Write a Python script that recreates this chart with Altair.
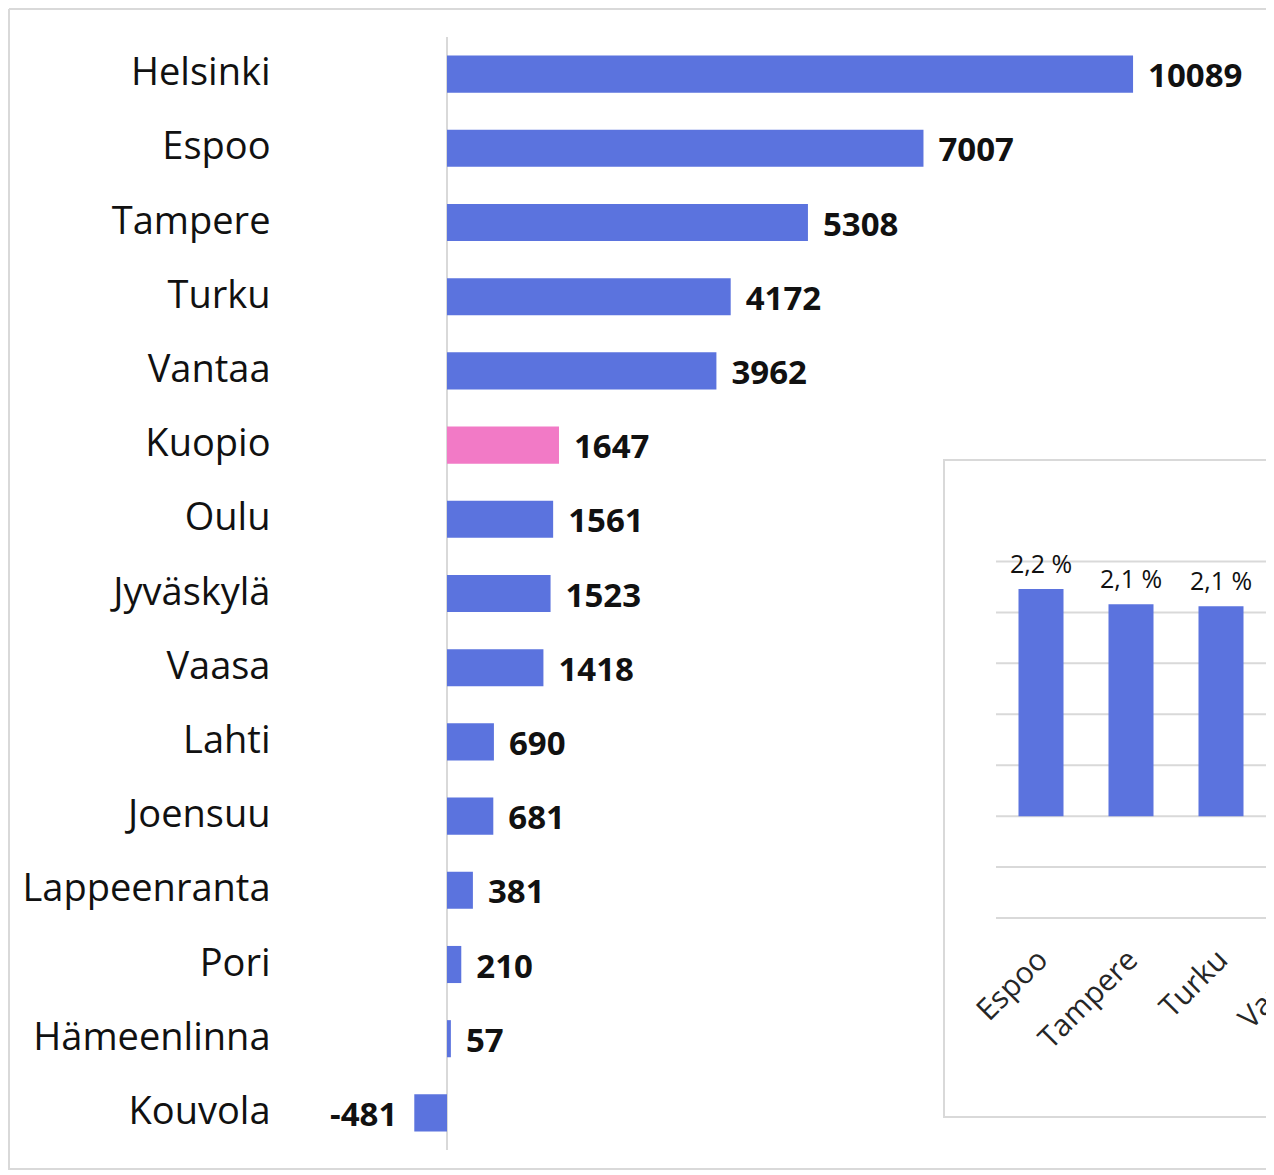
import altair as alt
import pandas as pd

# ---- data ----
cities = ["Helsinki", "Espoo", "Tampere", "Turku", "Vantaa", "Kuopio", "Oulu",
          "Jyväskylä", "Vaasa", "Lahti", "Joensuu", "Lappeenranta", "Pori",
          "Hämeenlinna", "Kouvola"]
values = [10089, 7007, 5308, 4172, 3962, 1647, 1561, 1523, 1418, 690, 681,
          381, 210, 57, -481]
highlight = "Kuopio"

inset_cities = ["Espoo", "Tampere", "Turku", "Vantaa"]
inset_bar_cities = ["Espoo", "Tampere", "Turku"]
inset_values = [2.23, 2.08, 2.06]
inset_ticks = [-1.0, -0.5, 0.0, 0.5, 1.0, 1.5, 2.0, 2.5]

BLUE = "#5b73de"
PINK = "#f27ac6"
GRID = "#d9d9d9"
TXT = "#111111"

main_df = pd.DataFrame({"city": cities, "value": values})
inset_df = pd.DataFrame({"city": inset_bar_cities, "v": inset_values})
inset_cat_df = pd.DataFrame({"city": inset_cities})
tick_df = pd.DataFrame({"tick": inset_ticks})
one = pd.DataFrame({"k": [0]})

W, H = 1256, 1160

# ---- main chart scales ----
xscale = alt.Scale(domain=[0, 10000], range=[437, 1117], zero=False, nice=False)
yscale = alt.Scale(domain=cities, range=[27, 1140], paddingInner=0.5, paddingOuter=0.25)

yaxis = alt.Axis(orient="left", offset=-265, labelPadding=5, ticks=False, domain=False,
                 labelFont="Open Sans", labelFontSize=38, labelColor=TXT,
                 labelLimit=500, title=None, grid=False)

f_left = alt.Chart(one).mark_rule(color=GRID, strokeWidth=2).encode(
    x=alt.value(-1), y=alt.value(-1), y2=alt.value(H + 2))
f_top = alt.Chart(one).mark_rule(color=GRID, strokeWidth=2).encode(
    y=alt.value(-1), x=alt.value(-1), x2=alt.value(W + 2))
f_bottom = alt.Chart(one).mark_rule(color=GRID, strokeWidth=2).encode(
    y=alt.value(H - 1), x=alt.value(-1), x2=alt.value(W + 2))

zero_rule = alt.Chart(main_df).transform_filter(alt.datum.city == cities[0]).transform_calculate(
    z="0").mark_rule(color=GRID, strokeWidth=2).encode(
    x=alt.X("z:Q", scale=xscale, axis=None),
    y=alt.value(27), y2=alt.value(1140))

bars = alt.Chart(main_df).mark_bar().encode(
    x=alt.X("value:Q", scale=xscale, axis=None),
    y=alt.Y("city:N", scale=yscale, axis=yaxis, sort=cities),
    color=alt.condition(alt.datum.city == highlight, alt.value(PINK), alt.value(BLUE)),
)

label_base = alt.Chart(main_df).transform_calculate(lbl="'' + datum.value")

pos_labels = label_base.transform_filter(alt.datum.value >= 0).mark_text(
    align="left", baseline="middle", dx=15, dy=3, font="Open Sans",
    fontSize=33, fontWeight="bold", color=TXT).encode(
    x=alt.X("value:Q", scale=xscale, axis=None),
    y=alt.Y("city:N", scale=yscale, axis=yaxis, sort=cities),
    text="lbl:N")

neg_labels = label_base.transform_filter(alt.datum.value < 0).mark_text(
    align="right", baseline="middle", dx=-17, dy=3, font="Open Sans",
    fontSize=33, fontWeight="bold", color=TXT).encode(
    x=alt.X("value:Q", scale=xscale, axis=None),
    y=alt.Y("city:N", scale=yscale, axis=yaxis, sort=cities),
    text="lbl:N")

main = alt.layer(f_left, f_top, f_bottom, zero_rule, bars, pos_labels, neg_labels)

# ---- inset chart ----
ix = alt.Scale(domain=inset_cities, range=[986, 1346], paddingInner=0.5, paddingOuter=0.25)
iy = alt.Scale(domain=[-1.0, 2.5], range=[908, 551.5], zero=False, nice=False)

inset_frame = alt.Chart(one).mark_rect(fill="white", stroke=GRID, strokeWidth=2).encode(
    x=alt.value(934), x2=alt.value(W + 20), y=alt.value(450), y2=alt.value(1107))

inset_grid = alt.Chart(tick_df).mark_rule(color=GRID, strokeWidth=2).encode(
    y=alt.Y("tick:Q", scale=iy, axis=None),
    x=alt.value(986), x2=alt.value(W + 20))

inset_bars = alt.Chart(inset_df).transform_calculate(base="0").mark_bar(color=BLUE).encode(
    x=alt.X("city:N", scale=ix, axis=None, sort=inset_cities),
    y=alt.Y("v:Q", scale=iy, axis=None),
    y2="base:Q")

inset_vals = alt.Chart(inset_df).transform_calculate(
    label="replace(format(datum.v, '.1f'), '.', ',') + ' %'"
).mark_text(baseline="bottom", dy=-11, font="Open Sans", fontSize=25, color=TXT).encode(
    x=alt.X("city:N", scale=ix, axis=None, sort=inset_cities),
    y=alt.Y("v:Q", scale=iy, axis=None),
    text="label:N")

inset_axis = alt.Chart(inset_cat_df).transform_calculate(base="-1").mark_text(
    angle=315, align="right", baseline="middle", dx=-25, dy=28,
    font="Open Sans", fontSize=30, color="#262626").encode(
    x=alt.X("city:N", scale=ix, axis=None, sort=inset_cities),
    y=alt.Y("base:Q", scale=iy, axis=None),
    text="city:N")

inset = alt.layer(inset_frame, inset_grid, inset_bars, inset_vals, inset_axis)

chart = alt.layer(main, inset).resolve_scale(
    x="independent", y="independent"
).properties(
    width=W, height=H, autosize="none",
    padding={"left": 2, "top": 2, "right": 0, "bottom": 0},
    background="white"
).configure_view(stroke=None)

chart.save("out.html", embed_options={"renderer": "svg", "actions": False})
